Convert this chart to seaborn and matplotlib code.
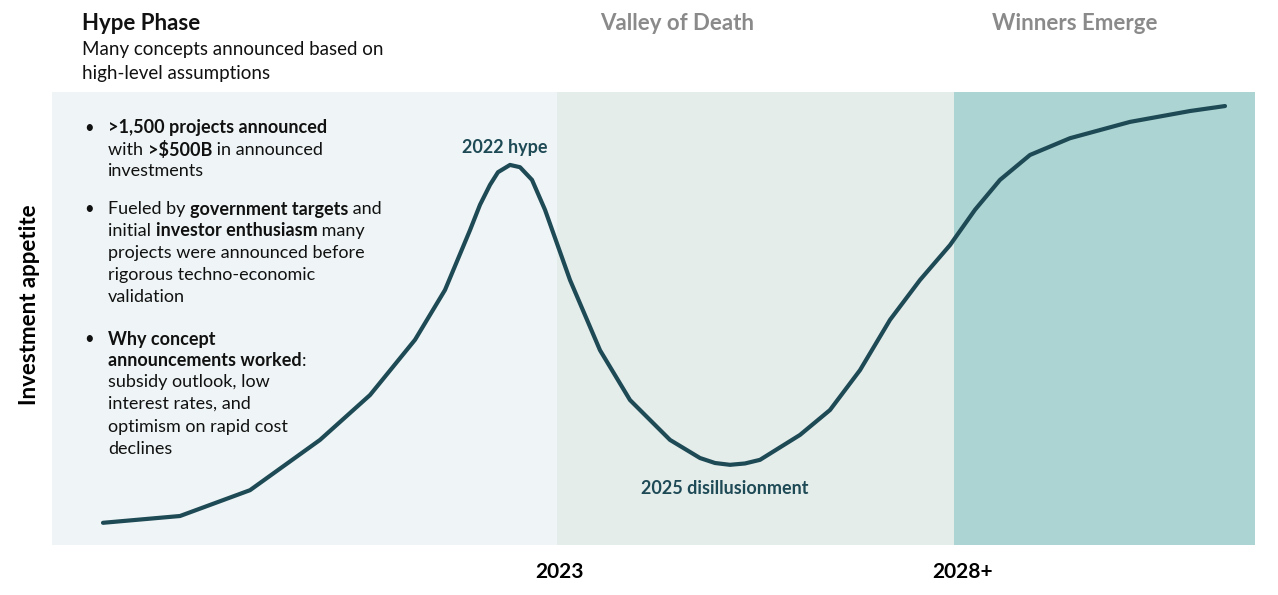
import matplotlib
matplotlib.use("Agg")
import matplotlib.pyplot as plt
import seaborn as sns
import pandas as pd

# curve (x in timeline units, y = investment appetite 0..100)
curve_x = [51, 128, 198, 268, 318, 363, 393, 418, 428, 438, 446, 458, 468, 480, 493, 518, 548, 578,
           618, 648, 663, 678, 693, 708, 748, 778, 808, 838, 868, 898, 923, 948, 978, 1018, 1078,
           1138, 1173]
curve_y = [4.9, 6.4, 12.1, 23.2, 33.1, 45.3, 56.3, 69.5, 75.1, 79.5, 82.3, 83.9, 83.4, 80.6, 74.0,
           58.5, 43.0, 32.0, 23.2, 19.2, 18.1, 17.7, 18.0, 18.8, 24.3, 29.8, 38.6, 49.7, 58.5, 66.2,
           74.0, 80.6, 86.1, 89.8, 93.4, 95.8, 96.9]
phase_edges = [0, 505, 902, 1203]
phase_names = ["Hype Phase", "Valley of Death", "Winners Emerge"]
phase_colors = ["#eff5f6", "#e5edeb", "#acd4d2"]
tick_pos = [508, 911]
tick_labels = ["2023", "2028+"]

FONT = "Lato"
DARK = "#1e4a56"
W, H = 1278, 595
fig = plt.figure(figsize=(W / 100, H / 100), dpi=100)
ax = fig.add_axes([52 / W, 50 / H, 1203 / W, 453 / H])
for i in range(3):
    ax.axvspan(phase_edges[i], phase_edges[i + 1], color=phase_colors[i], lw=0)
df = pd.DataFrame({"x": curve_x, "y": curve_y})
sns.lineplot(data=df, x="x", y="y", ax=ax, color=DARK, lw=3, estimator=None,
             solid_joinstyle="round", solid_capstyle="round")
ax.set_xlim(0, 1203)
ax.set_ylim(0, 100)
ax.set_xticks(tick_pos)
ax.set_xticklabels(tick_labels, fontfamily=FONT, fontweight="bold", fontsize=15)
ax.tick_params(axis="x", length=0, pad=12)
ax.set_yticks([])
ax.set_xlabel("")
ax.set_ylabel("")
for s in ax.spines.values():
    s.set_visible(False)

def px(x, y):
    return x / W, 1 - y / H

fig.text(*px(30, 305), "Investment appetite", rotation=90, ha="center", va="center",
         fontfamily=FONT, fontweight="bold", fontsize=16)
fig.text(*px(82, 24), phase_names[0], fontfamily=FONT, fontweight="bold", fontsize=16,
         va="center", color="#111")
fig.text(*px(677, 24), phase_names[1], fontfamily=FONT, fontweight="bold", fontsize=16,
         va="center", ha="center", color="#8a8a8a")
fig.text(*px(1075, 24), phase_names[2], fontfamily=FONT, fontweight="bold", fontsize=16,
         va="center", ha="center", color="#8a8a8a")
fig.text(*px(82, 50), "Many concepts announced based on", fontfamily=FONT, fontsize=13.5, va="center", color="#111")
fig.text(*px(82, 73), "high-level assumptions", fontfamily=FONT, fontsize=13.5, va="center", color="#111")
fig.text(*px(505, 147), "2022 hype", fontfamily=FONT, fontweight="bold", fontsize=13,
         va="center", ha="center", color=DARK)
fig.text(*px(725, 488), "2025 disillusionment", fontfamily=FONT, fontweight="bold", fontsize=13,
         va="center", ha="center", color=DARK)

fig.canvas.draw()
renderer = fig.canvas.get_renderer()

def rich(x, y, segs):
    cx = x
    for txt, bold in segs:
        t = fig.text(cx / W, 1 - y / H, txt, fontfamily=FONT, fontsize=13,
                     fontweight="bold" if bold else "normal", va="center", color="#111")
        bb = t.get_window_extent(renderer)
        cx += bb.width

lines = [
    (128, [(">1,500 projects announced", True)], True),
    (150, [("with ", False), (">$500B", True), (" in announced", False)], False),
    (171, [("investments", False)], False),
    (209, [("Fueled by ", False), ("government targets", True), (" and", False)], True),
    (231, [("initial ", False), ("investor enthusiasm", True), (" many", False)], False),
    (253, [("projects were announced before", False)], False),
    (275, [("rigorous techno-economic", False)], False),
    (297, [("validation", False)], False),
    (339, [("Why concept", True)], True),
    (361, [("announcements worked", True), (":", False)], False),
    (382, [("subsidy outlook, low", False)], False),
    (404, [("interest rates, and", False)], False),
    (427, [("optimism on rapid cost", False)], False),
    (449, [("declines", False)], False),
]
for y, segs, bullet in lines:
    if bullet:
        fig.text(84 / W, 1 - y / H, "•", fontfamily=FONT, fontsize=12, va="center", color="#111")
    rich(108, y, segs)

fig.savefig("out.png", dpi=100, facecolor="white")
